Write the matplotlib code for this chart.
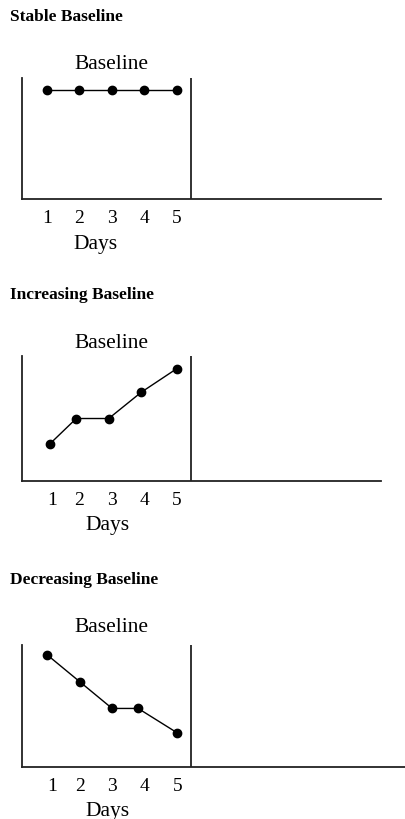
import matplotlib.pyplot as plt

plt.rcParams['font.family'] = ['Liberation Serif', 'DejaVu Serif']

# data (y in arbitrary units, axis height = 10)
titles = ["Stable Baseline", "Increasing Baseline", "Decreasing Baseline"]
stable_x = [1, 2, 3, 4, 5]
stable_y = [9, 9, 9, 9, 9]
inc_x = [1.1, 1.9, 2.9, 3.9, 5.0]
inc_y = [3, 5, 5, 7.1, 9]
dec_x = [1.0, 2.0, 3.0, 3.8, 5.0]
dec_y = [9.2, 7, 4.8, 4.8, 2.8]
tick_pos = [[1, 2, 3, 4, 5], [1.15, 2, 3, 4, 5], [1.15, 2, 3, 4, 5]]
tick_labels = ["1", "2", "3", "4", "5"]
phase_change = 5.43

series = [(stable_x, stable_y), (inc_x, inc_y), (dec_x, dec_y)]

fig = plt.figure(figsize=(4.05, 8.2), dpi=100)

# axes boxes [left, bottom, width, height] in figure fraction
boxes = [[0.0543, 0.7561, 0.8864, 0.1476],
         [0.0543, 0.4122, 0.8864, 0.1524],
         [0.0543, 0.0634, 0.9457, 0.1488]]
xmax = [11.28, 11.28, 12.0]
title_y = [0.979, 0.640, 0.293]
days_x = [2.5, 2.85, 2.85]
days_off = [45, 44, 43]      # pixels below the x axis
label_off = [14, 14, 18]     # pixels above the axes top

for i in range(3):
    ax = fig.add_axes(boxes[i])
    x, y = series[i]
    ax.plot(x, y, color='black', lw=1.0, marker='o', markersize=6, zorder=3)
    ax.axvline(phase_change, color='#222222', lw=1.3)
    ax.set_xlim(0.23, xmax[i])
    ax.set_ylim(0, 10)
    for s in ['top', 'right']:
        ax.spines[s].set_visible(False)
    for s in ['left', 'bottom']:
        ax.spines[s].set_linewidth(1.3)
        ax.spines[s].set_color('#222222')
    ax.set_yticks([])
    ax.set_xticks(tick_pos[i])
    ax.set_xticklabels(tick_labels, fontsize=14)
    ax.tick_params(axis='x', length=0, pad=7.5)
    ax.annotate("Baseline", xy=(2.97, 1), xycoords=('data', 'axes fraction'),
                xytext=(0, label_off[i] * 0.72), textcoords='offset points',
                ha='center', va='center', fontsize=15.5)
    ax.annotate("Days", xy=(days_x[i], 0), xycoords=('data', 'axes fraction'),
                xytext=(0, -days_off[i] * 0.72), textcoords='offset points',
                ha='center', va='center', fontsize=15.5)
    fig.text(10 / 405, title_y[i], titles[i], ha='left', va='center',
             fontsize=12.5, fontweight='bold')

fig.savefig("out.png", dpi=100)
